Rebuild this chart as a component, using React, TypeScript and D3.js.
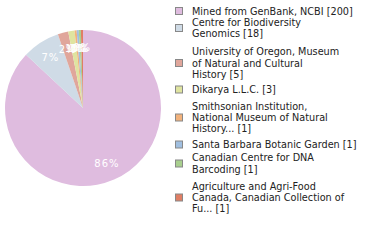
import React from "react";
import * as d3 from "d3";

const categories = [
  "Mined from GenBank, NCBI [200]",
  "Centre for Biodiversity\nGenomics [18]",
  "University of Oregon, Museum\nof Natural and Cultural\nHistory [5]",
  "Dikarya L.L.C. [3]",
  "Smithsonian Institution,\nNational Museum of Natural\nHistory... [1]",
  "Santa Barbara Botanic Garden [1]",
  "Canadian Centre for DNA\nBarcoding [1]",
  "Agriculture and Agri-Food\nCanada, Canadian Collection of\nFu... [1]",
];
const values = [200, 18, 5, 3, 1, 1, 1, 1];
const colors = ["#dfbcdf", "#cfdbe6", "#e0a69b", "#dfe4a0", "#f2b27c", "#a0bfe0", "#a8cf8e", "#e07e64"];
const legendCenters = [11, 28, 63, 89.5, 117.5, 144.5, 163.5, 197.5];

const W = 380, H = 240;
const cx = 83, cy = 108, R = 78;
const FONT = "'DejaVu Sans', sans-serif";

export default function App() {
  const total = d3.sum(values);
  const pie = d3.pie<number>().sort(null).value((d) => d);
  const arcs = pie(values);
  const arc = d3.arc<d3.PieArcDatum<number>>().innerRadius(0).outerRadius(R);
  const labelArc = d3.arc<d3.PieArcDatum<number>>().innerRadius(R * 0.77).outerRadius(R * 0.77);
  const lineH = 11.3;
  return (
    <svg width={W} height={H} style={{ position: "absolute", left: 0, top: 0, background: "#fff" }}>
      <g transform={`translate(${cx},${cy})`}>
        {arcs.map((a, i) => (
          <path key={i} d={arc(a) || ""} fill={colors[i]} stroke="none" />
        ))}
        {arcs.map((a, i) => {
          const [x, y] = labelArc.centroid(a);
          const pct = Math.floor((values[i] / total) * 100);
          return (
            <text key={"l" + i} x={x} y={y} textAnchor="middle" dominantBaseline="central"
              fill="#fff" fontFamily={FONT} fontSize={10} letterSpacing={1}>
              {pct}%
            </text>
          );
        })}
      </g>
      <g>
        {categories.map((c, i) => {
          const lines = c.split("\n");
          const yc = legendCenters[i];
          const y0 = yc - ((lines.length - 1) * lineH) / 2;
          return (
            <g key={i}>
              <rect x={175.5} y={yc - 3.5} width={7} height={7} fill={colors[i]} stroke="#888" strokeWidth={1} />
              {lines.map((t, j) => (
                <text key={j} x={192} y={y0 + j * lineH} dominantBaseline="central"
                  fontFamily={FONT} fontSize={9.7} fill="#222">
                  {t}
                </text>
              ))}
            </g>
          );
        })}
      </g>
    </svg>
  );
}
